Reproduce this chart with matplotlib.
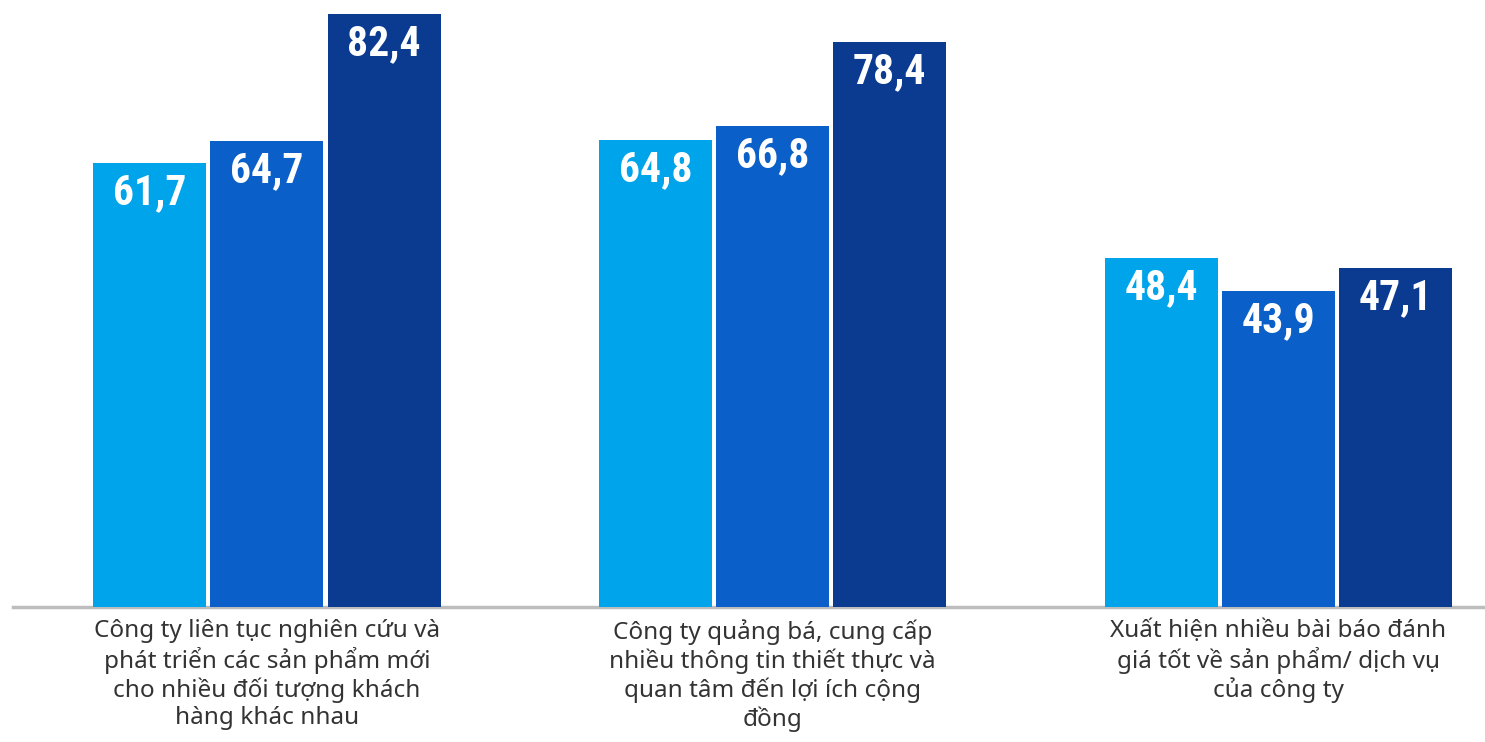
import numpy as np
import matplotlib.pyplot as plt

# Dữ liệu
categories = [
    "Công ty liên tục nghiên cứu và\nphát triển các sản phẩm mới\ncho nhiều đối tượng khách\nhàng khác nhau",
    "Công ty quảng bá, cung cấp\nnhiều thông tin thiết thực và\nquan tâm đến lợi ích cộng\nđồng",
    "Xuất hiện nhiều bài báo đánh\ngiá tốt về sản phẩm/ dịch vụ\ncủa công ty",
]
series_1 = [61.7, 64.8, 48.4]
series_2 = [64.7, 66.8, 43.9]
series_3 = [82.4, 78.4, 47.1]
colors = ["#00a4ea", "#0a5fc9", "#0a3b91"]

fig = plt.figure(figsize=(14.85, 7.42), dpi=100)
ax = fig.add_axes([0, 0.182, 1, 0.818])

x = np.arange(len(categories))
width = 0.2235
step = 0.2315

for i, vals in enumerate([series_1, series_2, series_3]):
    bars = ax.bar(x + (i - 1) * step, vals, width, color=colors[i], zorder=2)
    for b, v in zip(bars, vals):
        ax.annotate(f"{v:.1f}".replace(".", ","),
                    (b.get_x() + b.get_width() / 2, b.get_height()),
                    xytext=(0, -6.5), textcoords="offset points",
                    ha="center", va="top", color="white",
                    fontsize=30, fontweight="bold",
                    family=["Roboto Condensed", "Liberation Sans Narrow", "Roboto"], zorder=3)

ax.set_xlim(-0.528, 2.409)
ax.set_ylim(0, 84.3)
ax.axis("off")

# đường nền
ax.plot([-0.502, 2.409], [0, 0], color="#bdbdbd", lw=2.5, zorder=1, clip_on=False)

for xi, lab in zip(x, categories):
    ax.annotate(lab, (xi, 0), xytext=(0, -9), textcoords="offset points",
                ha="center", va="top", fontsize=17.5, color="#333333",
                linespacing=1.17, family="Noto Sans", annotation_clip=False)

plt.savefig("out.png", dpi=100)
plt.close()
